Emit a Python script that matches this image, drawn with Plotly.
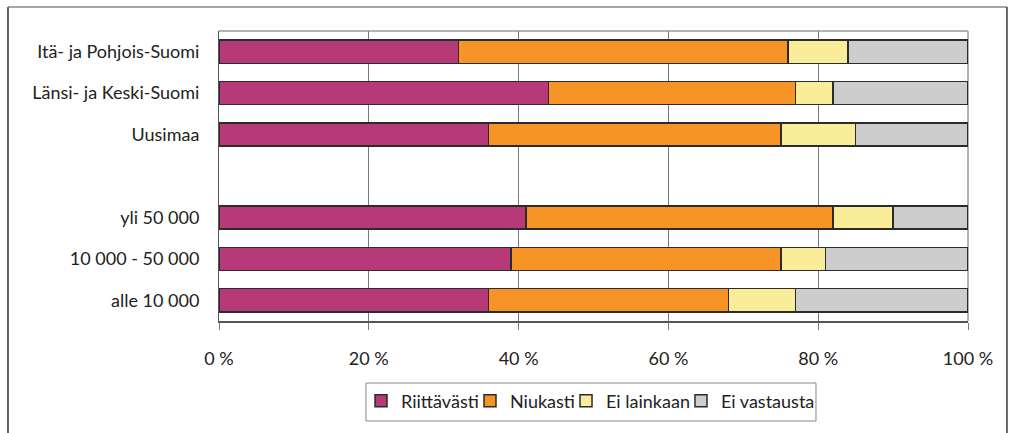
import plotly.graph_objects as go

categories = ["Itä- ja Pohjois-Suomi", "Länsi- ja Keski-Suomi", "Uusimaa", " ",
              "yli 50 000", "10 000 - 50 000", "alle 10 000"]
riittavasti = [32, 44, 36, None, 41, 39, 36]
niukasti = [44, 33, 39, None, 41, 36, 32]
ei_lainkaan = [8, 5, 10, None, 8, 6, 9]
ei_vastausta = [16, 18, 15, None, 10, 19, 23]

series = [
    ("Riittävästi", riittavasti, "#B53A77"),
    ("Niukasti", niukasti, "#F69428"),
    ("Ei lainkaan", ei_lainkaan, "#FAED99"),
    ("Ei vastausta", ei_vastausta, "#CDCDCD"),
]
x_ticks = [0, 20, 40, 60, 80, 100]
x_tick_labels = ["0 %", "20 %", "40 %", "60 %", "80 %", "100 %"]

FONT = "Lato, 'Open Sans', sans-serif"
FS = 18

# legend entry left positions (paper fraction of plot width)
legend_x = [0.1896, 0.3351, 0.4633, 0.6168]
legend_names = ["legend", "legend2", "legend3", "legend4"]

fig = go.Figure()
for (name, vals, color), lg in zip(series, legend_names):
    fig.add_trace(go.Bar(
        y=categories, x=vals, name=name, orientation="h", legend=lg,
        marker=dict(color=color, line=dict(color="#2b2b2b", width=1.5)),
    ))

legend_common = dict(
    orientation="h", xanchor="left", y=-0.2759, yanchor="middle",
    bgcolor="rgba(0,0,0,0)", borderwidth=0,
    font=dict(family=FONT, size=FS, color="#222222"),
    itemwidth=30,
)

layout_legends = {lg: dict(legend_common, x=lx) for lg, lx in zip(legend_names, legend_x)}

fig.update_layout(
    width=1010, height=433,
    margin=dict(l=219, r=42, t=31, b=112),
    paper_bgcolor="white", plot_bgcolor="white",
    barmode="stack", bargap=0.44,
    font=dict(family=FONT, size=FS, color="#222222"),
    showlegend=True,
    **layout_legends,
    xaxis=dict(
        range=[0, 100], tickvals=x_ticks, ticktext=x_tick_labels,
        showgrid=True, gridcolor="#7a7a7a", gridwidth=1,
        showline=True, linecolor="#555555", linewidth=1.5,
        ticks="outside", ticklen=7, tickcolor="#7a7a7a", tickwidth=1,
        ticklabelstandoff=14, zeroline=False,
        tickfont=dict(family=FONT, size=FS, color="#222222"),
    ),
    yaxis=dict(
        categoryorder="array", categoryarray=categories, type="category",
        range=[6.5, -0.5],
        showline=True, linecolor="#555555", linewidth=1,
        ticks="", ticklabelstandoff=15, showgrid=False,
        tickfont=dict(family=FONT, size=FS, color="#222222"),
    ),
    shapes=[
        dict(type="line", xref="paper", yref="paper", x0=0, x1=1, y0=1, y1=1,
             line=dict(color="#9a9a9a", width=1.5), layer="below"),
        dict(type="line", xref="paper", yref="paper", x0=1, x1=1, y0=0, y1=1,
             line=dict(color="#9a9a9a", width=1.5), layer="below"),
        dict(type="line", xref="paper", yref="paper", x0=-0.2817, x1=1.052, y0=1.0828, y1=1.0828,
             line=dict(color="#8a8a8a", width=1.5)),
        dict(type="line", xref="paper", yref="paper", x0=-0.2817, x1=-0.2817, y0=1.0828, y1=-0.5,
             line=dict(color="#666666", width=2)),
        dict(type="line", xref="paper", yref="paper", x0=1.052, x1=1.052, y0=1.0828, y1=-0.5,
             line=dict(color="#333333", width=1.5)),
        # legend box
        dict(type="rect", xref="paper", yref="paper", x0=0.19626, x1=0.79706,
             y0=-0.3448, y1=-0.2138, line=dict(color="#888888", width=1),
             fillcolor="white", layer="below"),
    ],
)

fig.write_html("out.html", config={"displayModeBar": False},
               post_script="document.body.style.margin='0';document.body.style.overflow='hidden';")
